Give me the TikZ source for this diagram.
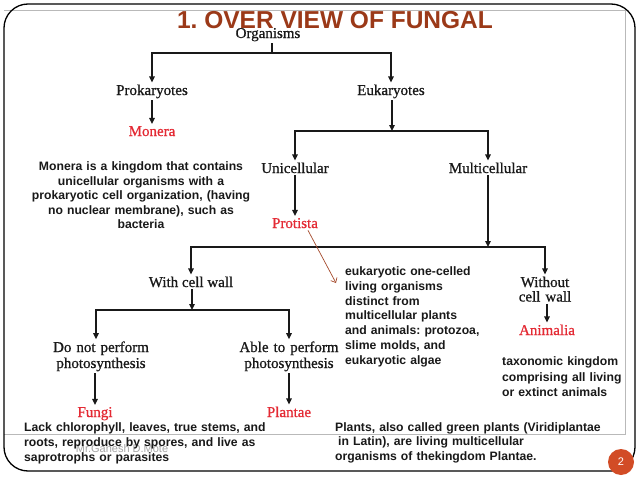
\documentclass[tikz,border=0pt]{standalone}
\usepackage{fontspec}
\setmainfont{Liberation Serif}
\newfontfamily\serlbl[FakeBold=0.8]{Liberation Serif}
\newfontfamily\arialfont{Liberation Sans}
\usetikzlibrary{arrows.meta}
\frenchspacing
\definecolor{titlecol}{RGB}{155,57,24}
\definecolor{monred}{RGB}{228,42,52}
\definecolor{pgcol}{RGB}{210,76,38}
\definecolor{annot}{RGB}{165,75,45}
\definecolor{inkcol}{RGB}{25,25,25}
\begin{document}
\begin{tikzpicture}[x=1pt,y=-1pt,
  lbl/.style={font=\serlbl\fontsize{15}{16}\selectfont, inner sep=2pt, text=inkcol},
  redlbl/.style={lbl, text=monred},
  desc/.style={inner sep=0pt, text=inkcol},
  arr/.style={draw=inkcol, line width=1.3pt, -{Triangle[length=6pt,width=5.5pt]}},
  ln/.style={draw=inkcol, line width=1.3pt},
]
\useasboundingbox (0,0) rectangle (638,479);
\fill[white] (0,0) rectangle (638,479);

% frame
\draw[gray!55, line width=0.6pt] (4,10) -- (625,10) -- (625,434) -- (4,434);
\draw[black, line width=1.3pt, rounded corners=24pt] (4,4) rectangle (635,471);

% title
\node[font=\arialfont\bfseries\fontsize{24.5}{26}\selectfont, text=titlecol, anchor=base, inner sep=0pt] (title) at (335,28) {1. OVER VIEW OF FUNGAL};

% tree labels
\node[lbl, anchor=base] (org) at (268,38) {Organisms};
\node[lbl, anchor=base] (prok) at (152,95) {Prokaryotes};
\node[lbl, anchor=base] (euk) at (391,95) {Eukaryotes};
\node[redlbl, anchor=base] (mon) at (152,136) {Monera};
\node[lbl, anchor=base] (uni) at (295,173) {Unicellular};
\node[lbl, anchor=base] (mul) at (488,173) {Multicellular};
\node[redlbl, anchor=base] (pro) at (295,228) {Protista};
\node[lbl, anchor=base] (wcw) at (191,287) {With cell wall};
\node[lbl, anchor=base, align=center, text width=100pt, font=\serlbl\fontsize{15}{14.5}\selectfont] (wocw) at (545,287) {Without\\cell wall};
\node[lbl, anchor=base, align=center, text width=110pt] (dnp) at (101,352) {Do not perform\\photosynthesis};
\node[lbl, anchor=base, align=center, text width=110pt] (atp) at (289,352) {Able to perform\\photosynthesis};
\node[redlbl, anchor=base] (fun) at (95,417) {Fungi};
\node[redlbl, anchor=base] (pla) at (289,417) {Plantae};
\node[redlbl, anchor=base] (ani) at (547,335) {Animalia};

% descriptions
\node[desc, anchor=base, text width=240pt, align=center, font=\arialfont\bfseries\fontsize{12.2}{14.6}\selectfont] (mdesc) at (141,170.5) {Monera is a kingdom that contains\\unicellular organisms with a\\prokaryotic cell organization, (having\\no nuclear membrane), such as\\bacteria};
\node[desc, anchor=base west, text width=150pt, align=left, font=\arialfont\bfseries\fontsize{12.2}{14.8}\selectfont] (edesc) at (345,275.5) {eukaryotic one-celled\\living organisms\\distinct from\\multicellular plants\\and animals: protozoa,\\slime molds, and\\eukaryotic algae};
\node[desc, anchor=base west, text width=130pt, align=left, font=\arialfont\bfseries\fontsize{12.2}{15.5}\selectfont] (tdesc) at (502,365.5) {taxonomic kingdom\\comprising all living\\or extinct animals};
\node[font=\arialfont\fontsize{11}{12}\selectfont, text=gray!70, anchor=base, inner sep=0pt] (wm) at (122,452) {Mr.Ganesh D.Mote};
\node[desc, anchor=base west, text width=260pt, align=left, font=\arialfont\bfseries\fontsize{12.2}{15}\selectfont] (fdesc) at (24,431) {Lack chlorophyll, leaves, true stems, and\\roots, reproduce by spores, and live as\\saprotrophs or parasites};
\node[desc, anchor=base west, text width=290pt, align=left, font=\arialfont\bfseries\fontsize{12.2}{14.5}\selectfont] (pdesc) at (335,431) {Plants, also called green plants (Viridiplantae\\\hspace*{3pt}in Latin), are living multicellular\\organisms of thekingdom Plantae.};

% page number
\node[circle, fill=pgcol, minimum size=26pt, inner sep=0pt, text=white, font=\arialfont\fontsize{11}{12}\selectfont] (pg) at (621,462) {2};

% connectors
\coordinate (b1) at (272,53);
\draw[ln] (org.south -| b1) -- (b1);
\draw[arr] (b1) -| (prok);
\draw[arr] (b1) -| (euk);
\draw[arr] (prok) -- (mon);
\coordinate (b2) at (392,131);
\draw[arr] (euk.south -| b2) -- (b2);
\draw[arr] (b2) -| (uni);
\draw[arr] (b2) -| (mul);
\draw[arr] (uni) -- (pro);
\coordinate (b3) at (488,247);
\draw[arr] (mul) -- (b3);
\draw[arr] (b3) -| (wcw);
\draw[arr] (b3) -| (wocw);
\coordinate (b4) at (192,310);
\draw[arr] (wcw.south -| b4) -- (b4);
\draw[arr] (b4) -| ([xshift=-5pt]dnp.north);
\draw[arr] (b4) -| (atp.north);
\draw[arr] (fun.north |- dnp.south) -- (fun.north);
\draw[arr] (pla.north |- atp.south) -- (pla.north);
\draw[arr] (ani.north |- wocw.south) -- (ani.north);

% annotation
\coordinate (ptip) at (336,283);
\draw[annot, line width=0.7pt, -{Straight Barb[length=4pt,width=7pt]}] ([xshift=13pt]pro.south) -- (ptip);
\end{tikzpicture}
\end{document}
